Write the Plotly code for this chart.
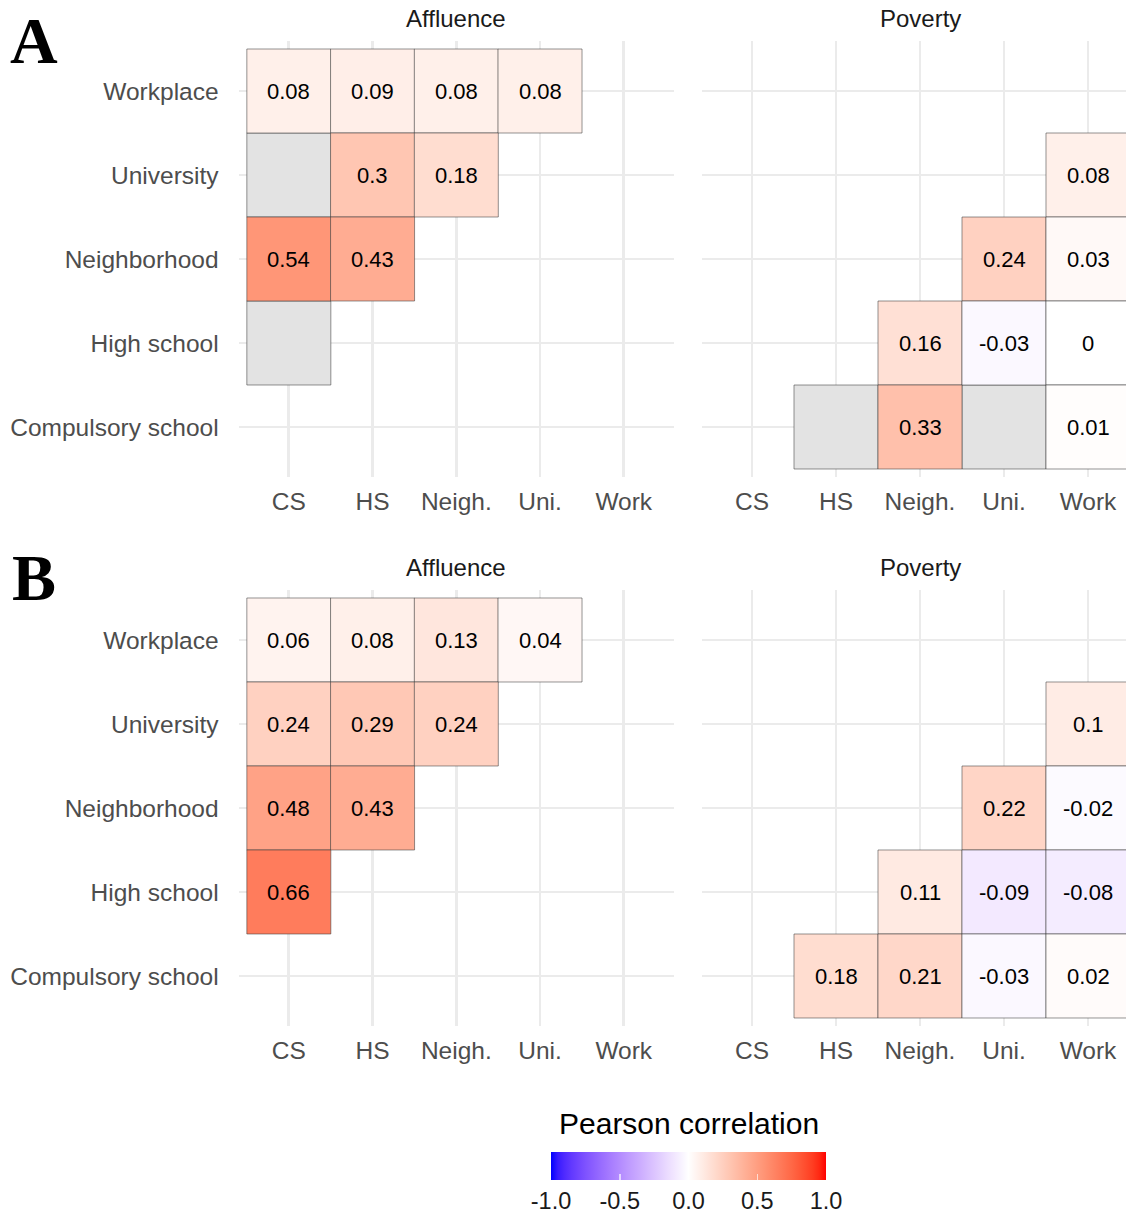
import numpy as np
import plotly.graph_objects as go

X_LABELS = ["CS", "HS", "Neigh.", "Uni.", "Work"]
Y_LABELS = ["Compulsory school", "High school", "Neighborhood", "University", "Workplace"]
NA = "NA"  # grey cell (no estimate)

# rows listed top (Workplace) to bottom (Compulsory school); columns follow X_LABELS
A_AFFLUENCE = [
    [0.08, 0.09, 0.08, 0.08, None],
    [NA, 0.3, 0.18, None, None],
    [0.54, 0.43, None, None, None],
    [NA, None, None, None, None],
    [None, None, None, None, None],
]
A_POVERTY = [
    [None, None, None, None, None],
    [None, None, None, None, 0.08],
    [None, None, None, 0.24, 0.03],
    [None, None, 0.16, -0.03, 0],
    [None, NA, 0.33, NA, 0.01],
]
B_AFFLUENCE = [
    [0.06, 0.08, 0.13, 0.04, None],
    [0.24, 0.29, 0.24, None, None],
    [0.48, 0.43, None, None, None],
    [0.66, None, None, None, None],
    [None, None, None, None, None],
]
B_POVERTY = [
    [None, None, None, None, None],
    [None, None, None, None, 0.1],
    [None, None, None, 0.22, -0.02],
    [None, None, 0.11, -0.09, -0.08],
    [None, 0.18, 0.21, -0.03, 0.02],
]
PANEL_TITLES = ["Affluence", "Poverty"]
ROW_LETTERS = ["A", "B"]
CBAR_TITLE = "Pearson correlation"
CBAR_TICKS = [-1.0, -0.5, 0.0, 0.5, 1.0]
CBAR_TICKTEXT = ["-1.0", "-0.5", "0.0", "0.5", "1.0"]

# ---------- colour scale: blue - white - red interpolated in CIE Lab ----------
def srgb_to_lab(rgb):
    c = np.array(rgb, dtype=float) / 255.0
    c = np.where(c <= 0.04045, c / 12.92, ((c + 0.055) / 1.055) ** 2.4)
    M = np.array([[0.4124, 0.3576, 0.1805], [0.2126, 0.7152, 0.0722], [0.0193, 0.1192, 0.9505]])
    xyz = M @ c / np.array([0.95047, 1.0, 1.08883])
    f = np.where(xyz > 0.008856, np.cbrt(xyz), 7.787 * xyz + 16 / 116)
    return np.array([116 * f[1] - 16, 500 * (f[0] - f[1]), 200 * (f[1] - f[2])])

def lab_to_srgb(lab):
    L, a, b = lab
    fy = (L + 16) / 116
    fx = fy + a / 500
    fz = fy - b / 200
    f = np.array([fx, fy, fz])
    xyz = np.where(f ** 3 > 0.008856, f ** 3, (f - 16 / 116) / 7.787) * np.array([0.95047, 1.0, 1.08883])
    Minv = np.array([[3.2406, -1.5372, -0.4986], [-0.9689, 1.8758, 0.0415], [0.0557, -0.2040, 1.0570]])
    c = np.clip(Minv @ xyz, 0, 1)
    c = np.where(c <= 0.0031308, 12.92 * c, 1.055 * c ** (1 / 2.4) - 0.055)
    r, g, bb = np.round(np.clip(c, 0, 1) * 255).astype(int)
    return f"rgb({r},{g},{bb})"

LAB_BLUE = srgb_to_lab((0, 0, 255))
LAB_WHITE = srgb_to_lab((255, 255, 255))
LAB_RED = srgb_to_lab((255, 0, 0))
colorscale = []
for t in np.linspace(0, 1, 41):
    if t <= 0.5:
        s = t / 0.5
        lab = LAB_BLUE + (LAB_WHITE - LAB_BLUE) * s
    else:
        s = (t - 0.5) / 0.5
        lab = LAB_WHITE + (LAB_RED - LAB_WHITE) * s
    colorscale.append([float(t), lab_to_srgb(lab)])

# ---------- layout geometry ----------
W, H = 1126, 1213
FONT = "Liberation Sans, Arial, sans-serif"

def px(xr):
    return xr / W

def py(yr):
    return 1 - yr / H

x_dom = [[px(238.6), px(674.0)], [px(701.6), 1.0]]
x_rng = [[-0.6, 4.6], [-0.6, 4.0 + (1126 - 1088) / 84.0]]
y_dom = [[py(477.4), py(40.6)], [py(1026.4), py(589.6)]]
CELL = 84

fig = go.Figure()
annotations = []
panels = [A_AFFLUENCE, A_POVERTY, B_AFFLUENCE, B_POVERTY]
first = True
for p, mat in enumerate(panels):
    r, c = divmod(p, 2)
    ax = "" if p == 0 else str(p + 1)
    xs, ys, vs, txt = [], [], [], []
    nx, ny = [], []
    for ri, row in enumerate(mat):
        yi = len(Y_LABELS) - 1 - ri
        for xi, v in enumerate(row):
            if v is None:
                continue
            if v == NA:
                nx.append(xi)
                ny.append(yi)
            else:
                xs.append(xi)
                ys.append(yi)
                vs.append(v)
                txt.append(f"{round(v, 2):g}")
    if nx:
        fig.add_trace(go.Scatter(
            x=nx, y=ny, mode="markers", xaxis="x" + ax, yaxis="y" + ax,
            marker=dict(symbol="square", size=CELL, color="#E3E3E3",
                        line=dict(color="rgba(60,60,60,0.55)", width=1)),
            hoverinfo="skip", showlegend=False))
    marker = dict(symbol="square", size=CELL, color=vs, colorscale=colorscale,
                  cmin=-1, cmax=1, line=dict(color="rgba(60,60,60,0.55)", width=1),
                  showscale=first)
    if first:
        marker["colorbar"] = dict(
            orientation="h", x=px(688.5), xanchor="center", y=py(1152), yanchor="top",
            len=275, lenmode="pixels", thickness=28, thicknessmode="pixels",
            outlinewidth=0, xpad=0, ypad=0,
            tickvals=CBAR_TICKS, ticktext=CBAR_TICKTEXT,
            tickfont=dict(size=23.5, color="#1A1A1A", family=FONT),
            ticks="inside", ticklen=6, tickcolor="rgba(255,255,255,0.65)", tickwidth=1.5)
        first = False
    fig.add_trace(go.Scatter(
        x=xs, y=ys, mode="markers", xaxis="x" + ax, yaxis="y" + ax,
        marker=marker, hoverinfo="skip", showlegend=False))
    for xv, yv, t in zip(xs, ys, txt):
        annotations.append(dict(text=t, x=xv, y=yv, xref="x" + ax, yref="y" + ax,
                                showarrow=False, xanchor="center", yanchor="middle",
                                font=dict(size=22, color="#000000", family=FONT)))

    fig.layout["xaxis" + ax] = dict(
        domain=x_dom[c], range=x_rng[c], anchor="y" + ax,
        tickvals=list(range(5)), ticktext=X_LABELS, showgrid=True, gridcolor="#EBEBEB",
        gridwidth=2.7, zeroline=False, showline=False, ticks="", ticklabelstandoff=7,
        tickfont=dict(size=24.5, color="#4D4D4D", family=FONT), fixedrange=True,
        automargin=False)
    fig.layout["yaxis" + ax] = dict(
        domain=y_dom[r], range=[-0.6, 4.6], anchor="x" + ax,
        tickvals=list(range(5)), ticktext=Y_LABELS, showticklabels=(c == 0),
        showgrid=True, gridcolor="#EBEBEB", gridwidth=2.7, zeroline=False, showline=False,
        ticks="", ticklabelstandoff=19,
        tickfont=dict(size=24.5, color="#4D4D4D", family=FONT), fixedrange=True,
        automargin=False)

title_x = [456.3, 920.0]
title_y = [18, 567]
for r in range(2):
    for c in range(2):
        annotations.append(dict(text=PANEL_TITLES[c], x=px(title_x[c]), y=py(title_y[r]),
                                xref="paper", yref="paper", xanchor="center", yanchor="middle",
                                showarrow=False, font=dict(size=24, color="#1A1A1A", family=FONT)))
letter_y = [40, 577]
for r in range(2):
    annotations.append(dict(text="<b>" + ROW_LETTERS[r] + "</b>", x=px(34), y=py(letter_y[r]),
                            xref="paper", yref="paper", xanchor="center", yanchor="middle",
                            showarrow=False,
                            font=dict(size=66, color="#000000", family="Liberation Serif, Times New Roman, serif")))
annotations.append(dict(text=CBAR_TITLE, x=px(688.5), y=py(1123), xref="paper", yref="paper",
                        xanchor="center", yanchor="middle", showarrow=False,
                        font=dict(size=30, color="#000000", family=FONT)))

fig.update_layout(width=W, height=H, margin=dict(l=0, r=0, t=0, b=0, autoexpand=False),
                  paper_bgcolor="white", plot_bgcolor="white",
                  annotations=annotations, font=dict(family=FONT))
fig.write_html("out.html", config={"displayModeBar": False, "staticPlot": True},
               post_script="document.body.style.margin='0';"
                           "document.documentElement.style.overflow='hidden';"
                           "document.body.style.overflow='hidden';")
